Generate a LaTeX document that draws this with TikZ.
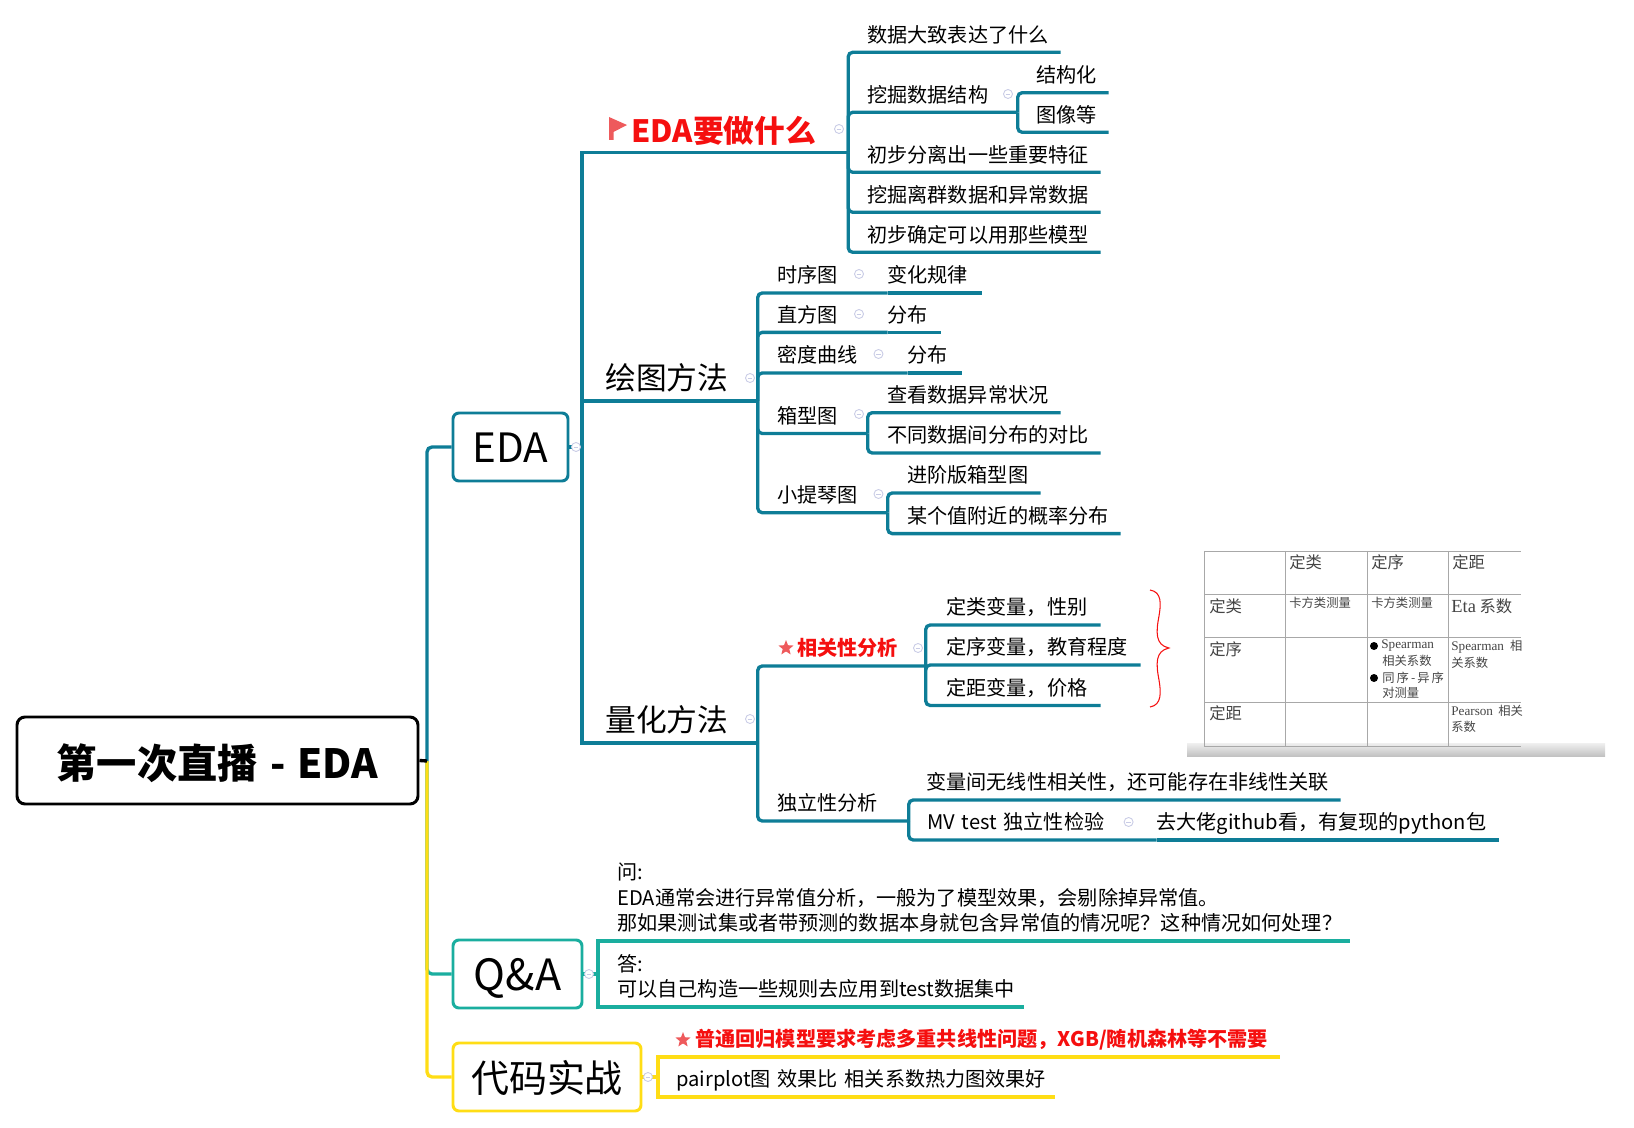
\documentclass[tikz,border=0pt]{standalone}
\usepackage{fontspec}
\setmainfont{Noto Sans CJK SC}
\newfontfamily\tablatin{Liberation Serif}
\usetikzlibrary{shapes.geometric}
\definecolor{mapteal}{HTML}{0E7D97}
\definecolor{mapgreen}{HTML}{1AAE9F}
\definecolor{mapyellow}{HTML}{FFDD15}
\definecolor{mapred}{HTML}{F50F0F}
\definecolor{markred}{HTML}{EE5A5C}
\definecolor{foldblue}{HTML}{C9CCE6}
\definecolor{tabgrey}{HTML}{A8A8A8}
\definecolor{tabtext}{HTML}{444444}

\begin{document}
\begin{tikzpicture}[x=0.02cm,y=-0.02cm]
	\tikzstyle{every node}+=[inner sep=0pt]
	\tikzstyle{topic}=[anchor=south west, text width=#1*0.02cm, align=left, text height=11pt, text depth=5.5pt, font=\fontsize{11.46}{14.7}\selectfont]
	\tikzstyle{headline}=[anchor=south west, text width=#1*0.02cm, align=left, text height=15pt, text depth=6.6pt, font=\fontsize{17.5}{20}\selectfont]
	\tikzstyle{note}=[anchor=south west, text width=#1*0.02cm, align=left, font=\fontsize{11.46}{14.7}\selectfont, execute at end node={\rule[-5.5pt]{0pt}{0pt}}]
	\tikzstyle{hotline}=[text=mapred]
	\tikzstyle{mainbox}=[draw, rounded corners=0.12cm, line width=1.7pt, minimum height=68*0.02cm, text height=22pt, text depth=4.4pt]
	\tikzstyle{branch}=[mapteal, line width=1.9pt]
	\tikzstyle{curved}=[branch, rounded corners=0.09cm]
	\tikzstyle{fold}=[circle, draw=foldblue, fill=white, line width=0.5pt, minimum size=9*0.02cm, path picture={\draw [foldblue, line width=0.5pt] ([xshift=-1.3pt]path picture bounding box.center) -- ([xshift=1.3pt]path picture bounding box.center);}]
	\tikzstyle{markstar}=[star, star points=5, star point ratio=2.3, fill=markred, minimum size=9pt]
	\tikzstyle{tabline}=[tabgrey, line width=0.55pt]
	\tikzstyle{cellbig}=[anchor=west, text=tabtext, font=\fontsize{9.3}{11}\selectfont]
	\tikzstyle{cellsmall}=[anchor=west, text=tabtext, font=\fontsize{7}{9}\selectfont]
	\tikzstyle{celldot}=[circle, fill=black, minimum size=8*0.02cm]

	\useasboundingbox (0,0) rectangle (1634,1128);

	\node [mainbox, minimum width=401*0.02cm, minimum height=87*0.02cm, rounded corners=0.16cm, text height=25pt, text depth=4pt, font=\fontsize{22.9}{27}\selectfont\bfseries] (root) at (217.5,760.5) {第一次直播\hspace{0.3em}-\hspace{0.3em}EDA};
	\node [mainbox, mapteal, text=black, minimum width=115*0.02cm, font=\fontsize{23}{26}\selectfont] (eda) at (510.5,447) {EDA};
	\node [mainbox, mapgreen, text=black, minimum width=129*0.02cm, text height=23pt, text depth=4.2pt, font=\fontsize{24.5}{26}\selectfont] (qa) at (517.5,974) {Q\&A};
	\node [mainbox, mapyellow, text=black, minimum width=188*0.02cm, font=\fontsize{21.6}{26}\selectfont] (code) at (547,1077) {代码实战};
	\coordinate (rootfork) at (427,761);
	\coordinate (edafork) at (582,447);
	\coordinate (qafork) at (598,974);
	\coordinate (codefork) at (658,1077);

	\node [topic=216.5, font=\fontsize{17.5}{22}\selectfont\bfseries, hotline] (what) at (631,152.3) {EDA要做什么};
	\node [headline=152] (plot) at (605,401) {绘图方法};
	\node [headline=152] (quant) at (605,743) {量化方法};

	\node [topic=193] (what1) at (867,52.3) {数据大致表达了什么};
	\node [topic=150] (what2) at (867,112.3) {挖掘数据结构};
	\node [topic=72] (what21) at (1036,92.7) {结构化};
	\node [topic=72] (what22) at (1036,132.3) {图像等};
	\node [topic=233] (what3) at (867,172.3) {初步分离出一些重要特征};
	\node [topic=233] (what4) at (867,212.3) {挖掘离群数据和异常数据};
	\node [topic=233] (what5) at (867,252.3) {初步确定可以用那些模型};

	\node [topic=110] (plot1) at (777,293) {时序图};
	\node [topic=94] (plot11) at (887,293) {变化规律};
	\node [topic=110] (plot2) at (777,332.4) {直方图};
	\node [topic=53] (plot21) at (887,332.4) {分布};
	\node [topic=130] (plot3) at (777,373) {密度曲线};
	\node [topic=54] (plot31) at (907,373) {分布};
	\node [topic=90] (plot4) at (777,433.5) {箱型图};
	\node [topic=173] (plot41) at (887,412.7) {查看数据异常状况};
	\node [topic=213] (plot42) at (887,453) {不同数据间分布的对比};
	\node [topic=110] (plot5) at (777,512.7) {小提琴图};
	\node [topic=133] (plot51) at (907,493) {进阶版箱型图};
	\node [topic=213] (plot52) at (907,533.6) {某个值附近的概率分布};

	\node [topic=128, font=\fontsize{11.46}{14.7}\selectfont\bfseries, hotline] (corr) at (797,666) {相关性分析};
	\node [markstar] (corrstar) at (786,648) {};
	\node [topic=154] (corr1) at (946,625) {定类变量^^^^ff0c性别};
	\node [topic=194] (corr2) at (946,665) {定序变量^^^^ff0c教育程度};
	\node [topic=154] (corr3) at (946,705.5) {定距变量^^^^ff0c价格};
	\node [topic=131] (indep) at (777,821) {独立性分析};
	\node [topic=414] (indep1) at (926,800) {变量间无线性相关性^^^^ff0c还可能存在非线性关联};
	\node [topic=229] (indep2) at (927,840) {MV test 独立性检验};
	\node [topic=342] (indep21) at (1156,840) {去大佬github看^^^^ff0c有复现的python包};

	\node [note=732] (ask) at (617,941) {问:\\EDA通常会进行异常值分析^^^^ff0c一般为了模型效果^^^^ff0c会剔除掉异常值。\\那如果测试集或者带预测的数据本身就包含异常值的情况呢^^^^ff1f这种情况如何处理^^^^ff1f};
	\node [note=406] (reply) at (617,1007) {答:\\可以自己构造一些规则去应用到test数据集中};
	\node [topic=584, font=\fontsize{11.46}{14.7}\selectfont\bfseries, hotline] (code1) at (695,1057) {普通回归模型要求考虑多重共线性问题^^^^ff0cXGB/随机森林等不需要};
	\node [markstar] (codestar) at (683,1040) {};
	\node [topic=378] (code2) at (676,1097) {pairplot图 效果比 相关系数热力图效果好};

	\draw [mapgreen, line width=1.9pt, rounded corners=0.1cm] (rootfork) |- (qa.west);
	\draw [mapyellow, line width=1.9pt, rounded corners=0.1cm] (rootfork) |- (code.west);
	\draw [mapteal, line width=1.9pt, rounded corners=0.1cm] (rootfork) |- (eda.west);
	\draw [black, line width=1.9pt] (root.east) -- (rootfork);

	\draw [branch] (eda.east) -- (edafork);
	\draw [branch] (edafork) |- (what.south east);
	\draw [branch] (edafork) |- (plot.south east);
	\draw [branch] (edafork) |- (quant.south east);

	\draw [curved] (what.south east) |- (what1.south east);
	\draw [curved] (what.south east) |- (what2.south east);
	\draw [curved] (what.south east) |- (what3.south east);
	\draw [curved] (what.south east) |- (what4.south east);
	\draw [curved] (what.south east) |- (what5.south east);
	\draw [curved] (what2.south east) |- (what21.south east);
	\draw [curved] (what2.south east) |- (what22.south east);

	\draw [curved] (plot.south east) |- (plot1.south east);
	\draw [curved] (plot.south east) |- (plot2.south east);
	\draw [curved] (plot.south east) |- (plot3.south east);
	\draw [curved] (plot.south east) |- (plot4.south east);
	\draw [curved] (plot.south east) |- (plot5.south east);
	\draw [branch] (plot1.south east) -- (plot11.south east);
	\draw [branch] (plot2.south east) -- (plot21.south east);
	\draw [branch] (plot3.south east) -- (plot31.south east);
	\draw [curved] (plot4.south east) |- (plot41.south east);
	\draw [curved] (plot4.south east) |- (plot42.south east);
	\draw [curved] (plot5.south east) |- (plot51.south east);
	\draw [curved] (plot5.south east) |- (plot52.south east);

	\draw [curved] (quant.south east) |- (corr.south east);
	\draw [curved] (quant.south east) |- (indep.south east);
	\draw [curved] (corr.south east) |- (corr1.south east);
	\draw [curved] (corr.south east) |- (corr2.south east);
	\draw [curved] (corr.south east) |- (corr3.south east);
	\draw [curved] (indep.south east) |- (indep1.south east);
	\draw [curved] (indep.south east) |- (indep2.south east);
	\draw [branch] (indep2.south east) -- (indep21.south east);

	\draw [mapgreen, line width=1.9pt] (qa.east) -- (qafork);
	\draw [mapgreen, line width=2.4pt] (qafork) |- (ask.south east);
	\draw [mapgreen, line width=2.4pt] (qafork) |- (reply.south east);
	\draw [mapyellow, line width=1.9pt] (code.east) -- (codefork);
	\draw [mapyellow, line width=2.4pt] (codefork) |- (code1.south east);
	\draw [mapyellow, line width=2.4pt] (codefork) |- (code2.south east);

	\node [fold] (foldeda) at (576,447) {};
	\node [fold] (foldwhat) at (839,129) {};
	\node [fold] (foldwhat2) at (1008,94) {};
	\node [fold] (foldplot) at (750,378) {};
	\node [fold] (foldquant) at (750,719) {};
	\node [fold] (foldplot1) at (859,274) {};
	\node [fold] (foldplot2) at (859,314) {};
	\node [fold] (foldplot3) at (878.5,354) {};
	\node [fold] (foldplot4) at (859,414) {};
	\node [fold] (foldplot5) at (878.5,494) {};
	\node [fold] (foldcorr) at (918,648) {};
	\node [fold] (foldindep2) at (1128.6,822) {};
	\node [fold] (foldqa) at (589,974) {};
	\node [fold] (foldcode) at (648,1077) {};

	\fill [markred] (609,117) -- (627,125) -- (613.5,132) -- (613.5,140) -- (609,140) -- cycle;

	\draw [mapred, line width=0.6pt] (1150,590) .. controls (1162,592) and (1161,604) .. (1159,616) .. controls (1156,632) and (1155,645) .. (1169,648) .. controls (1155,651) and (1156,664) .. (1159,680) .. controls (1161,692) and (1162,705) .. (1150,707);

	\shade [top color=black!6, bottom color=black!24] (1187,743) rectangle (1605,756);
	\draw [tabline] (1204,551) -- (1521,551);
	\draw [tabline] (1204,594) -- (1521,594);
	\draw [tabline] (1204,637) -- (1521,637);
	\draw [tabline] (1204,702) -- (1521,702);
	\draw [tabline] (1204,746) -- (1521,746);
	\draw [tabline] (1204,551) -- (1204,746);
	\draw [tabline] (1285,551) -- (1285,746);
	\draw [tabline] (1367,551) -- (1367,746);
	\draw [tabline] (1448,551) -- (1448,746);

	\node [cellbig] (head1) at (1289,562) {定类};
	\node [cellbig] (head2) at (1371,562) {定序};
	\node [cellbig] (head3) at (1452,562) {定距};
	\node [cellbig] (row1) at (1209,606) {定类};
	\node [cellbig] (row2) at (1209,649) {定序};
	\node [cellbig] (row3) at (1209,713) {定距};
	\node [cellsmall] (cell11) at (1289,603) {卡方类测量};
	\node [cellsmall] (cell12) at (1371,603) {卡方类测量};
	\node [cellbig] (cell13) at (1451,606) {{\fontsize{10.5}{11}\tablatin\selectfont Eta} 系数};
	\node [cellsmall, font=\fontsize{7.5}{9}\tablatin\selectfont] (cell22a) at (1381,646) {Spearman};
	\node [celldot] (dot1) at (1374,646) {};
	\node [cellsmall] (cell22b) at (1382,661) {相关系数};
	\node [celldot] (dot2) at (1374,678) {};
	\node [cellsmall] (cell22c) at (1382,678) {同\,序\,-\,异\,序};
	\node [cellsmall] (cell22d) at (1382,693) {对测量};
	\node [cellsmall] (cell23a) at (1451,647) {{\fontsize{7.5}{9}\tablatin\selectfont Spearman}\hspace{3.5pt}相};
	\node [cellsmall] (cell23b) at (1451,663) {关系数};
	\node [cellsmall] (cell33a) at (1451,711) {{\fontsize{7.5}{9}\tablatin\selectfont Pearson}\hspace{3pt}相关};
	\node [cellsmall] (cell33b) at (1451,727) {系数};
\end{tikzpicture}
\end{document}
